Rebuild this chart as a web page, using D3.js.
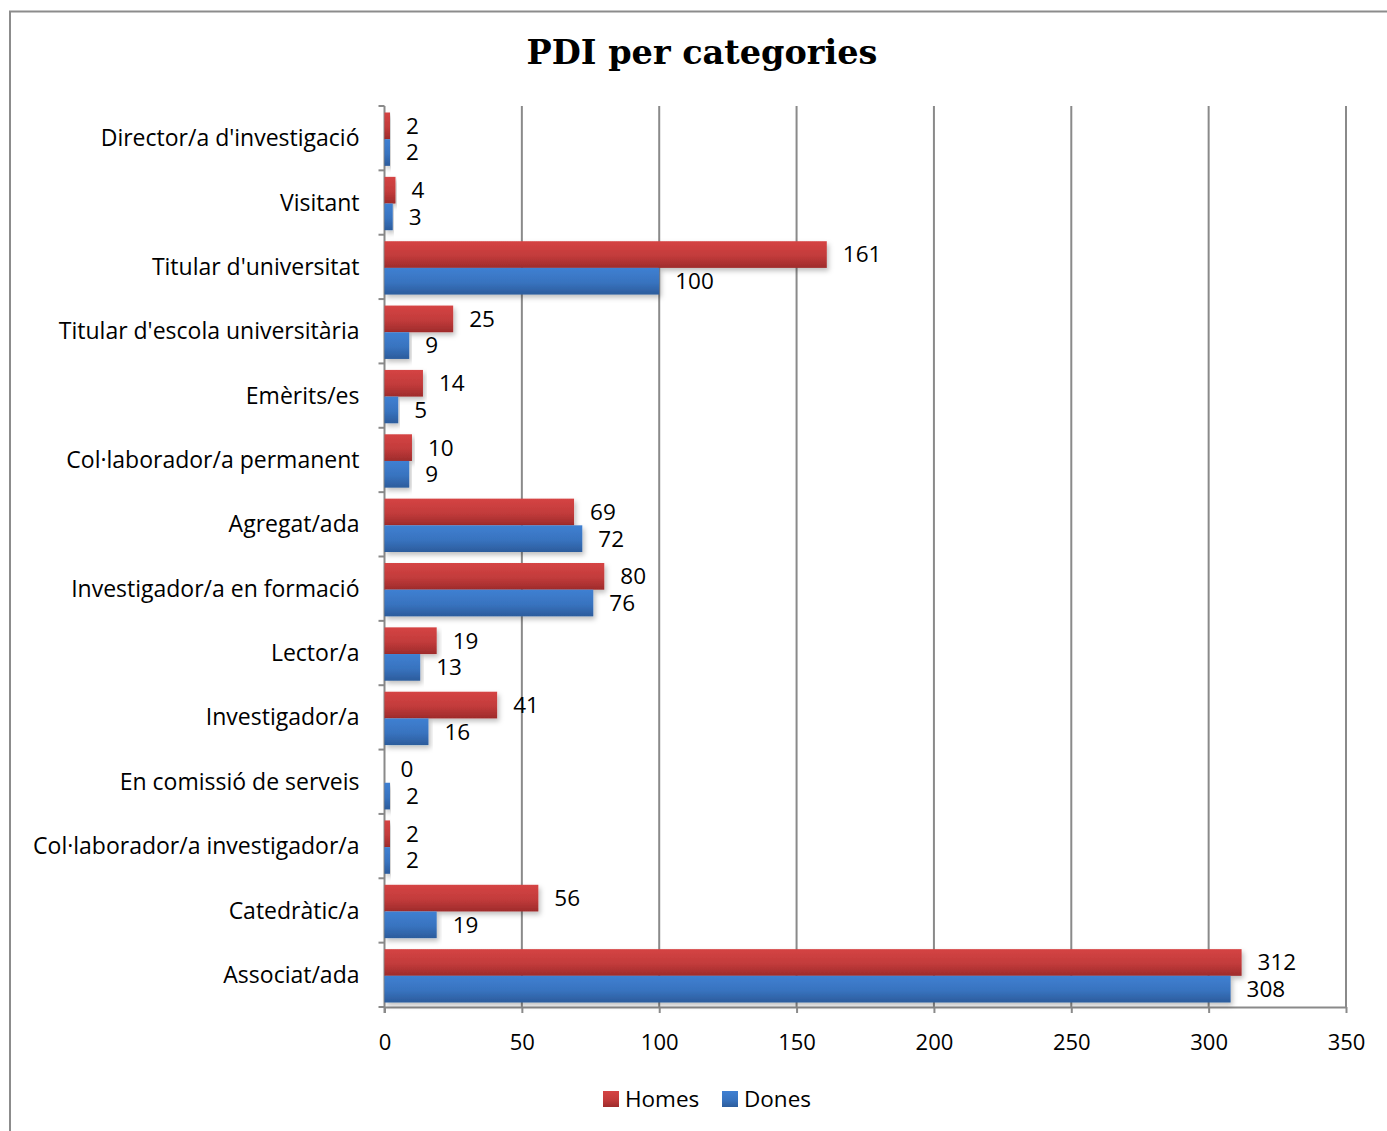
<!DOCTYPE html>
<html lang="en">
<head>
<meta charset="utf-8">
<title>PDI per categories</title>
<script src="https://cdn.jsdelivr.net/npm/d3@7/dist/d3.min.js"></script>
<style>
  body { margin: 0; background: #fff; }
  svg text { font-family: "Open Sans", "Noto Sans", sans-serif; fill: #000;
    font-variant-ligatures: none; font-feature-settings: "locl" 0, "liga" 0; }
</style>
</head>
<body>
<div id="chart"></div>
<script>
// categories, top to bottom
var categories = [
  "Director/a d'investigació", "Visitant", "Titular d'universitat",
  "Titular d'escola universitària", "Emèrits/es", "Col·laborador/a permanent",
  "Agregat/ada", "Investigador/a en formació", "Lector/a", "Investigador/a",
  "En comissió de serveis", "Col·laborador/a investigador/a", "Catedràtic/a",
  "Associat/ada"
];
var homes = [2, 4, 161, 25, 14, 10, 69, 80, 19, 41, 0, 2, 56, 312];
var dones = [2, 3, 100, 9, 5, 9, 72, 76, 13, 16, 2, 2, 19, 308];
var seriesNames = ["Homes", "Dones"];
var xTicks = [0, 50, 100, 150, 200, 250, 300, 350];

var W = 1387, H = 1131;
var svg = d3.select("#chart").append("svg")
  .attr("width", W).attr("height", H);

// gradients for the bars
var defs = svg.append("defs");
function grad(id, c1, c2) {
  var g = defs.append("linearGradient").attr("id", id)
    .attr("x1", 0).attr("y1", 0).attr("x2", 0).attr("y2", 1);
  g.append("stop").attr("offset", "0%").attr("stop-color", c1);
  g.append("stop").attr("offset", "55%").attr("stop-color", d3.interpolateRgb(c1, c2)(0.35));
  g.append("stop").attr("offset", "100%").attr("stop-color", c2);
}
grad("gRed", "#d54444", "#9e2b2b");
grad("gBlue", "#3f80d2", "#2c5c9c");
var fills = ["url(#gRed)", "url(#gBlue)"];

defs.append("filter").attr("id", "shadow")
  .attr("x", "-5%").attr("y", "-20%").attr("width", "115%").attr("height", "160%")
  .append("feDropShadow").attr("dx", 2).attr("dy", 3).attr("stdDeviation", 2.5)
  .attr("flood-color", "#000").attr("flood-opacity", 0.25);

// outer frame
svg.append("path")
  .attr("d", "M10,1131 V11.5 H1387")
  .attr("fill", "none").attr("stroke", "#8c8c8c").attr("stroke-width", 2);

// title
svg.append("text")
  .attr("x", 702).attr("y", 64)
  .attr("text-anchor", "middle")
  .style("font-family", "'DejaVu Serif', 'Liberation Serif', serif")
  .style("font-weight", "bold").style("font-size", "33.5px")
  .text("PDI per categories");

var plotLeft = 384.5, plotRight = 1346, plotTop = 106, plotBottom = 1007;

var x = d3.scaleLinear().domain([0, 350]).range([plotLeft, plotRight]);
var y = d3.scaleBand().domain(categories).range([plotTop, plotBottom]);
var inner = d3.scaleBand().domain(seriesNames)
  .range([6.5, y.bandwidth() - 4.5]).padding(0);

// gridlines
svg.append("g").selectAll("line")
  .data(xTicks.slice(1))
  .join("line")
  .attr("x1", d => x(d)).attr("x2", d => x(d))
  .attr("y1", plotTop).attr("y2", plotBottom)
  .attr("stroke", "#8a8a8a").attr("stroke-width", 2);

// x axis
var xAxis = svg.append("g")
  .attr("transform", "translate(0," + plotBottom + ")")
  .call(d3.axisBottom(x).tickValues(xTicks).tickSize(6).tickPadding(14).tickSizeOuter(0));
xAxis.select(".domain").attr("stroke", "#8a8a8a").attr("stroke-width", 2);
xAxis.selectAll(".tick line").attr("stroke", "#8a8a8a").attr("stroke-width", 2);
xAxis.selectAll(".tick text").style("font-size", "22px").attr("y", 35).attr("dy", "0.35em");

// y axis (tick marks between categories)
var yAxisG = svg.append("g").attr("transform", "translate(" + plotLeft + ",0)");
yAxisG.append("line")
  .attr("x1", 0).attr("x2", 0).attr("y1", plotTop).attr("y2", plotBottom + 6)
  .attr("stroke", "#8a8a8a").attr("stroke-width", 2);
var bounds = d3.range(categories.length + 1).map(i => plotTop + i * y.step());
yAxisG.selectAll("line.tk").data(bounds).join("line").attr("class", "tk")
  .attr("x1", -6).attr("x2", 0).attr("y1", d => d).attr("y2", d => d)
  .attr("stroke", "#8a8a8a").attr("stroke-width", 2);
yAxisG.selectAll("text").data(categories).join("text")
  .attr("x", -25).attr("y", d => y(d) + y.bandwidth() / 2)
  .attr("text-anchor", "end").attr("dy", "0.35em")
  .style("font-size", "23px")
  .text(d => d);

// bars
var series = [homes, dones];
series.forEach(function (vals, si) {
  var g = svg.append("g");
  g.selectAll("rect").data(vals).join("rect")
    .attr("x", x(0))
    .attr("y", (d, i) => y(categories[i]) + inner(seriesNames[si]))
    .attr("width", d => Math.max(0, x(d) - x(0)))
    .attr("height", inner.bandwidth())
    .attr("fill", fills[si])
    .attr("filter", "url(#shadow)");
  g.selectAll("text").data(vals).join("text")
    .attr("x", d => x(d) + 16)
    .attr("y", (d, i) => y(categories[i]) + inner(seriesNames[si]) + inner.bandwidth() / 2)
    .attr("dy", "0.35em")
    .style("font-size", "22.5px")
    .text(d => d);
});

// legend
var legend = svg.append("g").attr("transform", "translate(603,1099)");
var legX = [0, 119];
seriesNames.forEach(function (name, i) {
  legend.append("rect")
    .attr("x", legX[i]).attr("y", -8).attr("width", 16).attr("height", 16)
    .attr("fill", fills[i]);
  legend.append("text")
    .attr("x", legX[i] + 22).attr("y", 0).attr("dy", "0.35em")
    .style("font-size", "22.5px")
    .text(name);
});
</script>
</body>
</html>
